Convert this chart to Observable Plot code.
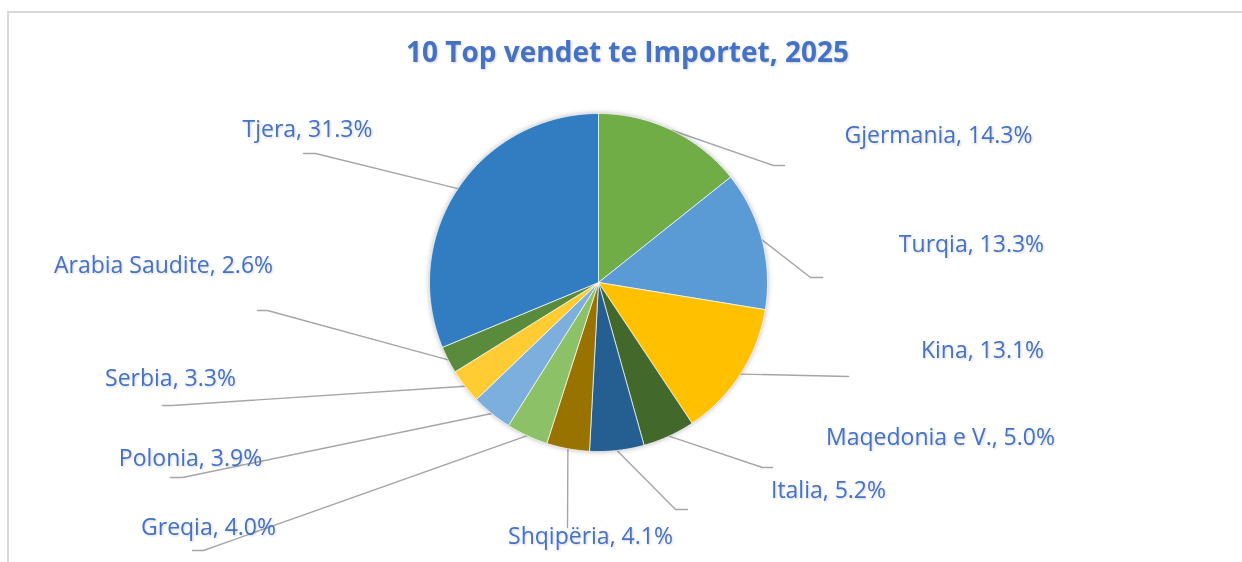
<!DOCTYPE html>
<html><head><meta charset="utf-8">
<script src="https://cdn.jsdelivr.net/npm/d3@7"></script>
<script src="https://cdn.jsdelivr.net/npm/@observablehq/plot@0.6"></script>
<style>
body{margin:0;background:#fff;overflow:hidden;}
#wrap{position:relative;width:1242px;height:562px;overflow:hidden;}
#border{position:absolute;left:7px;top:11px;width:1300px;height:620px;border:2px solid #d9d9d9;box-sizing:border-box;}
#chart{position:absolute;left:0;top:0;}
g[aria-description="pie"]{filter:drop-shadow(0 0 2.5px rgba(0,0,0,0.28));}
g[aria-description="labels"], g[aria-description="title"]{filter:drop-shadow(1px 1.5px 1px rgba(0,0,0,0.18));}
</style></head><body>
<div id="wrap"><div id="border"></div><div id="chart"></div></div>
<script>
// ---- data ----
const title = "10 Top vendet te Importet, 2025";
const countries = ["Gjermania","Turqia","Kina","Maqedonia e V.","Italia","Shqipëria","Greqia","Polonia","Serbia","Arabia Saudite","Tjera"];
const shares = [14.3, 13.3, 13.1, 5.0, 5.2, 4.1, 4.0, 3.9, 3.3, 2.6, 31.3];
const colors = ["#70AD47","#5B9BD5","#FFC000","#43682B","#255E91","#997300","#8CC168","#7CAFDD","#FFCD33","#5A8B3C","#327DC2"];

// ---- layout (pixels) ----
const W = 1242, H = 562;
const CX = 598, CY = 282, R = 169;
const titlePos = [627, 53];
const labelPos = [[938,135],[971,244],[982,350],[940,437],[828,490],[590,536],[208,527],[190,458],[170,378],[163,265],[307,129]];
const elbows = [[773,165],[810,277],null,[762,467],[675,509],null,[203,550],[182,477],[172,405],[267,310],[315,153]];
const ends = [[784,165],[822,277],[848,376],[772,467],[687,509],[567,527],[192,550],[170,477],[162,405],[257,310],[303,153]];

// ---- build ----
const table = countries.map((name, i) => ({name, value: shares[i]}));
const arcs = d3.pie().sort(null).value(d => d.value)(table);
const pt = (a, r) => [CX + r * Math.sin(a), CY - r * Math.cos(a)];

const slicePts = [];
arcs.forEach(a => {
  const n = Math.max(2, Math.ceil((a.endAngle - a.startAngle) / (Math.PI / 360)));
  slicePts.push({name: a.data.name, x: CX, y: CY});
  for (let k = 0; k <= n; k++) {
    const ang = a.startAngle + (a.endAngle - a.startAngle) * k / n;
    const [x, y] = pt(ang, R);
    slicePts.push({name: a.data.name, x, y});
  }
  slicePts.push({name: a.data.name, x: CX, y: CY});
});

const leaderPts = [];
arcs.forEach((a, i) => {
  const mid = (a.startAngle + a.endAngle) / 2;
  const [sx, sy] = pt(mid, R);
  leaderPts.push({name: a.data.name, x: sx, y: sy});
  if (elbows[i]) leaderPts.push({name: a.data.name, x: elbows[i][0], y: elbows[i][1]});
  leaderPts.push({name: a.data.name, x: ends[i][0], y: ends[i][1]});
});

const labels = table.map((d, i) => ({text: `${d.name}, ${d.value.toFixed(1)}%`, x: labelPos[i][0], y: labelPos[i][1]}));

const chart = Plot.plot({
  width: W, height: H,
  margin: 0,
  style: {background: "transparent", overflow: "visible"},
  x: {domain: [0, W], range: [0, W], axis: null},
  y: {domain: [0, H], range: [0, H], axis: null},
  color: {domain: countries, range: colors},
  marks: [
    Plot.line(leaderPts, {x: "x", y: "y", z: "name", stroke: "#a6a6a6", strokeWidth: 1.4, curve: "linear"}),
    Plot.line(slicePts, {x: "x", y: "y", z: "name", fill: "name", stroke: "#ffffff", strokeWidth: 0.7, strokeLinejoin: "round", ariaDescription: "pie"}),
    Plot.text(labels, {x: "x", y: "y", text: "text", fill: "#4472C4", fontSize: 23, fontFamily: "Open Sans", textAnchor: "middle", lineAnchor: "middle", ariaDescription: "labels"}),
    Plot.text([title], {x: () => titlePos[0], y: () => titlePos[1], text: d => d, fill: "#4472C4", fontSize: 28, fontWeight: "bold", fontFamily: "Open Sans", textAnchor: "middle", lineAnchor: "middle", ariaDescription: "title"})
  ]
});
document.getElementById("chart").appendChild(chart);
</script>
</body></html>
